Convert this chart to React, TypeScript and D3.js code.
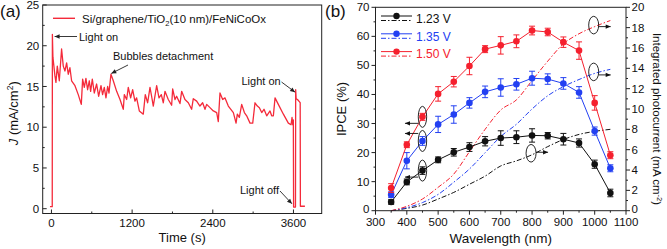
// @ts-nocheck

import * as d3 from "d3";
import { useRef, useEffect } from "react";

// panel (a): chronoamperometry
const timeS = [-22, 12, 14, 22, 52, 67, 87, 117, 151, 176, 201, 226, 250, 275, 300, 350, 399, 444, 464, 489, 513, 538, 563, 583, 608, 637, 672, 702, 737, 761, 786, 811, 836, 856, 885, 920, 970, 1020, 1069, 1084, 1119, 1143, 1178, 1208, 1242, 1267, 1307, 1366, 1396, 1431, 1466, 1490, 1515, 1565, 1600, 1634, 1664, 1689, 1738, 1788, 1803, 1838, 1862, 1912, 1937, 1986, 2036, 2085, 2110, 2160, 2209, 2249, 2284, 2309, 2358, 2408, 2458, 2482, 2507, 2547, 2582, 2631, 2706, 2746, 2765, 2795, 2830, 2870, 2904, 2954, 2994, 3028, 3063, 3093, 3128, 3162, 3202, 3251, 3276, 3301, 3326, 3375, 3450, 3524, 3564, 3579, 3589, 3598, 3602, 3630, 3633, 3640, 3660, 3690, 3700, 3703, 3770];
const currentJ = [0.25, 0.25, 21.4, 18.6, 16.3, 15.5, 17.5, 15.7, 19.6, 17.5, 16.9, 17.9, 16.5, 17.3, 15.7, 15.1, 14.0, 12.8, 15.9, 14.9, 16.0, 14.6, 15.7, 14.4, 15.9, 14.2, 15.3, 13.8, 15.1, 14.0, 14.9, 13.6, 15.0, 14.2, 16.5, 15.7, 14.4, 13.4, 12.2, 14.0, 13.4, 14.9, 13.6, 14.6, 13.2, 13.6, 12.0, 11.6, 14.0, 13.0, 14.9, 13.8, 12.6, 15.1, 13.6, 14.0, 13.0, 14.4, 13.4, 12.7, 14.7, 13.4, 13.8, 12.9, 14.4, 13.4, 13.0, 12.2, 13.5, 13.2, 12.6, 13.0, 12.2, 12.8, 12.4, 12.0, 11.8, 10.7, 14.2, 13.4, 13.6, 12.6, 11.8, 10.5, 11.6, 11.2, 12.8, 11.8, 11.4, 10.5, 10.5, 13.0, 12.6, 12.4, 11.8, 12.2, 11.4, 12.0, 11.4, 11.4, 13.6, 12.8, 11.6, 10.5, 10.3, 11.2, 10.3, 10.9, 0.2, 0.2, 14.6, 13.5, 13.4, 13.1, 13.0, 0.3, 0.3];
const timeTicks = [0, 1200, 2400, 3600];
const timeMinor = [600, 1800, 3000];
const jTicks = [0, 5, 10, 15, 20, 25];

// panel (b): IPCE + integrated photocurrent
const wavelengthNm = [350, 400, 450, 500, 550, 600, 650, 700, 750, 800, 850, 900, 950, 1000, 1050];
const ipce123 = [3.0, 9.9, 13.8, 17.5, 20.1, 21.9, 23.9, 25.0, 25.3, 25.9, 25.8, 24.6, 23.3, 16.0, 6.1];
const ipce135 = [5.5, 17.2, 24.0, 29.7, 33.1, 37.1, 40.9, 42.4, 43.5, 45.6, 45.3, 43.8, 40.7, 27.4, 14.6];
const ipce150 = [7.8, 22.7, 32.3, 40.2, 44.4, 49.8, 55.6, 56.9, 58.3, 62.0, 61.5, 58.0, 55.1, 37.1, 19.1];
const err123 = [0.8, 1.0, 1.3, 1.0, 1.3, 1.5, 1.6, 2.5, 2.2, 2.3, 1.1, 2.0, 1.4, 1.4, 1.3];
const err135 = [1.0, 2.8, 1.5, 2.8, 3.0, 1.8, 2.0, 3.0, 2.0, 2.4, 1.8, 2.0, 2.0, 1.4, 1.2];
const err150 = [1.5, 1.0, 1.2, 2.5, 1.8, 3.0, 1.2, 3.0, 2.2, 1.5, 1.3, 1.8, 3.0, 2.5, 1.2];
const integ123 = [0, 0.23, 0.55, 1.15, 1.8, 2.6, 3.4, 4.4, 4.9, 5.5, 6.3, 7.0, 7.5, 7.8, 8.0];
const integ135 = [0, 0.3, 0.8, 1.6, 2.8, 4.1, 5.7, 7.3, 8.5, 10.0, 11.3, 12.2, 12.9, 13.5, 13.9];
const integ150 = [0, 0.43, 1.15, 2.3, 3.6, 5.8, 8.0, 9.9, 10.9, 12.8, 14.7, 16.4, 17.4, 18.1, 18.7];
const biasLabels = ["1.23 V", "1.35 V", "1.50 V"];
const seriesColors = ["#111111", "#2340f2", "#f5202e"];
const wlTicks = [300, 400, 500, 600, 700, 800, 900, 1000, 1100];
const ipceTicks = [0, 10, 20, 30, 40, 50, 60, 70];
const integTicks = [0, 2, 4, 6, 8, 10, 12, 14, 16, 18, 20];

const FONT = "Liberation Sans, Arial, sans-serif";

const arrow = (g, x1, y1, x2, y2, color = "#222") => {
  g.append("line")
    .attr("x1", x1).attr("y1", y1).attr("x2", x2).attr("y2", y2)
    .attr("stroke", color).attr("stroke-width", 0.9);
  const ang = Math.atan2(y2 - y1, x2 - x1);
  const len = 5, w = 2.2;
  const bx = x2 - len * Math.cos(ang), by = y2 - len * Math.sin(ang);
  const px = -Math.sin(ang) * w, py = Math.cos(ang) * w;
  g.append("path")
    .attr("d", `M${x2},${y2}L${bx + px},${by + py}L${bx - px},${by - py}Z`)
    .attr("fill", color);
};

export default function App() {
  const ref = useRef();

  useEffect(() => {
    const svg = d3.select(ref.current);
    svg.selectAll("*").remove();
    svg.append("rect").attr("width", 667).attr("height", 249).attr("fill", "#fff");

    // ---------------- panel (a) ----------------
    const ga = svg.append("g").attr("font-family", FONT).attr("fill", "#111");
    const L = 42.7, R = 321.7, T = 5, B = 213.5;
    const xa = d3.scaleLinear().domain([-130, 4020]).range([L, R]);
    const ya = d3.scaleLinear().domain([-0.59, 25]).range([B, T]);

    const lineA = d3.line().x((d) => xa(d[0])).y((d) => ya(d[1]));
    ga.append("path")
      .datum(timeS.map((t, i) => [t, currentJ[i]]))
      .attr("d", lineA)
      .attr("fill", "none")
      .attr("stroke", "#f42a3a")
      .attr("stroke-width", 1.3)
      .attr("stroke-linejoin", "round");

    ga.append("rect")
      .attr("x", L).attr("y", T).attr("width", R - L).attr("height", B - T)
      .attr("fill", "none").attr("stroke", "#222").attr("stroke-width", 1);

    jTicks.forEach((v) => {
      ga.append("line").attr("x1", L).attr("x2", L + 4).attr("y1", ya(v)).attr("y2", ya(v)).attr("stroke", "#222");
      ga.append("text").attr("x", L - 3.5).attr("y", ya(v)).attr("dy", "0.35em")
        .attr("text-anchor", "end").attr("font-size", 11.5).text(v);
    });
    d3.range(2.5, 25, 5).forEach((v) => {
      ga.append("line").attr("x1", L).attr("x2", L + 2).attr("y1", ya(v)).attr("y2", ya(v)).attr("stroke", "#222");
    });
    timeTicks.forEach((v) => {
      ga.append("line").attr("x1", xa(v)).attr("x2", xa(v)).attr("y1", B).attr("y2", B - 4).attr("stroke", "#222");
      ga.append("text").attr("x", xa(v)).attr("y", 226.5)
        .attr("text-anchor", "middle").attr("font-size", 11.5).text(v);
    });
    timeMinor.forEach((v) => {
      ga.append("line").attr("x1", xa(v)).attr("x2", xa(v)).attr("y1", B).attr("y2", B - 2).attr("stroke", "#222");
    });

    ga.append("text").attr("x", (L + R) / 2).attr("y", 241.5)
      .attr("text-anchor", "middle").attr("font-size", 13).text("Time (s)");
    const jt = ga.append("text")
      .attr("transform", `translate(17.5,${(T + B) / 2 + 4}) rotate(-90)`)
      .attr("text-anchor", "middle").attr("font-size", 13);
    jt.append("tspan").attr("font-style", "italic").text("J");
    jt.append("tspan").text(" (mA/cm");
    jt.append("tspan").attr("font-size", 8.5).attr("dy", -5).text("2");
    jt.append("tspan").attr("dy", 5).text(")");

    ga.append("text").attr("x", 0).attr("y", 17).attr("font-size", 17).text("(a)");

    // legend
    ga.append("line").attr("x1", 53).attr("x2", 75).attr("y1", 18.3).attr("y2", 18.3)
      .attr("stroke", "#f42a3a").attr("stroke-width", 1.4);
    const lg = ga.append("text").attr("x", 82).attr("y", 22.5).attr("font-size", 11.5);
    lg.append("tspan").text("Si/graphene/TiO");
    lg.append("tspan").attr("font-size", 7.5).attr("dy", 3).text("2");
    lg.append("tspan").attr("dy", -3).text("(10 nm)/FeNiCoOx");

    // annotations
    ga.append("text").attr("x", 79).attr("y", 41).attr("font-size", 11).text("Light on");
    arrow(ga, 77, 36.5, xa(25) + 1.5, 36.5);
    ga.append("text").attr("x", 113).attr("y", 60).attr("font-size", 11).text("Bubbles detachment");
    arrow(ga, 128, 65, xa(890), ya(16.6));
    ga.append("text").attr("x", 241.5).attr("y", 85).attr("font-size", 11).text("Light on");
    arrow(ga, 281.5, 82, xa(3632) - 0.5, ya(14.3));
    ga.append("text").attr("x", 240).attr("y", 194).attr("font-size", 11).text("Light off");
    arrow(ga, 280, 191, xa(3600) - 1.5, ya(0.6));

    // ---------------- panel (b) ----------------
    const gb = svg.append("g").attr("font-family", FONT).attr("fill", "#111");
    const L2 = 375.5, R2 = 626, T2 = 7.3, B2 = 210.7;
    const xb = d3.scaleLinear().domain([300, 1100]).range([L2, R2]);
    const yb = d3.scaleLinear().domain([0, 70]).range([B2, T2]);
    const yr = d3.scaleLinear().domain([0, 20]).range([B2, T2]);

    const ipce = [ipce123, ipce135, ipce150];
    const errs = [err123, err135, err150];
    const integ = [integ123, integ135, integ150];

    const dashLine = d3.line().curve(d3.curveMonotoneX).x((d) => xb(d[0])).y((d) => yr(d[1]));
    const solidLine = d3.line().x((d) => xb(d[0])).y((d) => yb(d[1]));

    integ.forEach((arr, s) => {
      gb.append("path")
        .datum(wavelengthNm.map((w, i) => [w, arr[i]]))
        .attr("d", dashLine)
        .attr("fill", "none").attr("stroke", seriesColors[s]).attr("stroke-width", 1)
        .attr("stroke-dasharray", "5,2,1.5,2");
    });

    ipce.forEach((arr, s) => {
      const c = seriesColors[s];
      gb.append("path")
        .datum(wavelengthNm.map((w, i) => [w, arr[i]]))
        .attr("d", solidLine)
        .attr("fill", "none").attr("stroke", c).attr("stroke-width", 1);
      wavelengthNm.forEach((w, i) => {
        const x = xb(w), lo = yb(arr[i] - errs[s][i]), hi = yb(arr[i] + errs[s][i]);
        gb.append("path")
          .attr("d", `M${x},${lo}V${hi}M${x - 3},${lo}H${x + 3}M${x - 3},${hi}H${x + 3}`)
          .attr("stroke", c).attr("stroke-width", 1).attr("fill", "none");
        gb.append("circle").attr("cx", x).attr("cy", yb(arr[i])).attr("r", 3.3).attr("fill", c);
      });
    });

    gb.append("rect")
      .attr("x", L2).attr("y", T2).attr("width", R2 - L2).attr("height", B2 - T2)
      .attr("fill", "none").attr("stroke", "#222").attr("stroke-width", 1);

    ipceTicks.forEach((v) => {
      gb.append("line").attr("x1", L2).attr("x2", L2 - 4).attr("y1", yb(v)).attr("y2", yb(v)).attr("stroke", "#222");
      gb.append("text").attr("x", L2 - 6).attr("y", yb(v) - (v === 0 ? 1.5 : 0)).attr("dy", "0.35em")
        .attr("text-anchor", "end").attr("font-size", 11.5).text(v);
    });
    d3.range(5, 70, 10).forEach((v) => {
      gb.append("line").attr("x1", L2).attr("x2", L2 - 2).attr("y1", yb(v)).attr("y2", yb(v)).attr("stroke", "#222");
    });
    integTicks.forEach((v) => {
      gb.append("line").attr("x1", R2).attr("x2", R2 + 4).attr("y1", yr(v)).attr("y2", yr(v)).attr("stroke", "#222");
      gb.append("text").attr("x", R2 + 5.5).attr("y", yr(v) - (v === 0 ? 1.5 : 0)).attr("dy", "0.35em")
        .attr("font-size", 11.5).text(v);
    });
    d3.range(1, 20, 2).forEach((v) => {
      gb.append("line").attr("x1", R2).attr("x2", R2 + 2).attr("y1", yr(v)).attr("y2", yr(v)).attr("stroke", "#222");
    });
    wlTicks.forEach((v) => {
      gb.append("line").attr("x1", xb(v)).attr("x2", xb(v)).attr("y1", B2).attr("y2", B2 + 4).attr("stroke", "#222");
      gb.append("text").attr("x", xb(v)).attr("y", 225.5)
        .attr("text-anchor", "middle").attr("font-size", 11.5).text(v);
    });
    d3.range(350, 1100, 100).forEach((v) => {
      gb.append("line").attr("x1", xb(v)).attr("x2", xb(v)).attr("y1", B2).attr("y2", B2 + 2).attr("stroke", "#222");
    });

    gb.append("text").attr("x", (L2 + R2) / 2).attr("y", 243)
      .attr("text-anchor", "middle").attr("font-size", 13.5).text("Wavelength (nm)");
    gb.append("text")
      .attr("transform", `translate(346,${(T2 + B2) / 2}) rotate(-90)`)
      .attr("text-anchor", "middle").attr("font-size", 13).text("IPCE (%)");
    const rt = gb.append("text")
      .attr("transform", `translate(652.5,${(T2 + B2) / 2 + 10}) rotate(90)`)
      .attr("text-anchor", "middle").attr("font-size", 11.5);
    rt.append("tspan").text("Integrated photocurrent (mA cm");
    rt.append("tspan").attr("font-size", 7.5).attr("dy", -4.5).text("-2");
    rt.append("tspan").attr("dy", 4.5).text(")");

    gb.append("text").attr("x", 325).attr("y", 17).attr("font-size", 17).text("(b)");

    // legend
    biasLabels.forEach((lab, s) => {
      const y0 = 16 + s * 17.8;
      const c = seriesColors[s];
      gb.append("line").attr("x1", 381).attr("x2", 412).attr("y1", y0).attr("y2", y0)
        .attr("stroke", c).attr("stroke-width", 1);
      gb.append("circle").attr("cx", 396.5).attr("cy", y0).attr("r", 3.2).attr("fill", c);
      gb.append("line").attr("x1", 381).attr("x2", 412).attr("y1", y0 + 4.5).attr("y2", y0 + 4.5)
        .attr("stroke", c).attr("stroke-width", 1).attr("stroke-dasharray", "5,2,1.5,2");
      gb.append("text").attr("x", 416).attr("y", y0 + 2.5).attr("dy", "0.35em")
        .attr("font-size", 12).attr("fill", c).text(lab);
    });

    // ellipse callouts: IPCE -> left axis
    const leftArrowOffset = [6.5, -7.5, 6.5];
    ipce.forEach((arr, s) => {
      const cx = xb(450), cy = yb(arr[2]);
      gb.append("ellipse").attr("cx", cx).attr("cy", cy).attr("rx", 4.2).attr("ry", 10.5)
        .attr("fill", "none").attr("stroke", "#111").attr("stroke-width", 0.9);
      arrow(gb, cx - 4.2, cy + leftArrowOffset[s], cx - 17.5, cy + leftArrowOffset[s], "#111");
    });
    // integrated photocurrent -> right axis
    const rightCallouts = [
      { w: 800, arr: integ123, dy: -1 },
      { w: 1000, arr: integ135, dy: 3 },
      { w: 1000, arr: integ150, dy: 1.5 },
    ];
    rightCallouts.forEach((c) => {
      const i = wavelengthNm.indexOf(c.w);
      const cx = xb(c.w) - 1, cy = yr(c.arr[i]) - 1.5;
      gb.append("ellipse").attr("cx", cx).attr("cy", cy).attr("rx", 5).attr("ry", 8.8)
        .attr("fill", "none").attr("stroke", "#111").attr("stroke-width", 0.9);
      arrow(gb, cx + 5, cy + c.dy, cx + 17, cy + c.dy, "#111");
    });
  }, []);

  return (
    <svg
      ref={ref}
      width={667}
      height={249}
      style={{ position: "absolute", left: 0, top: 0 }}
    ></svg>
  );
}
